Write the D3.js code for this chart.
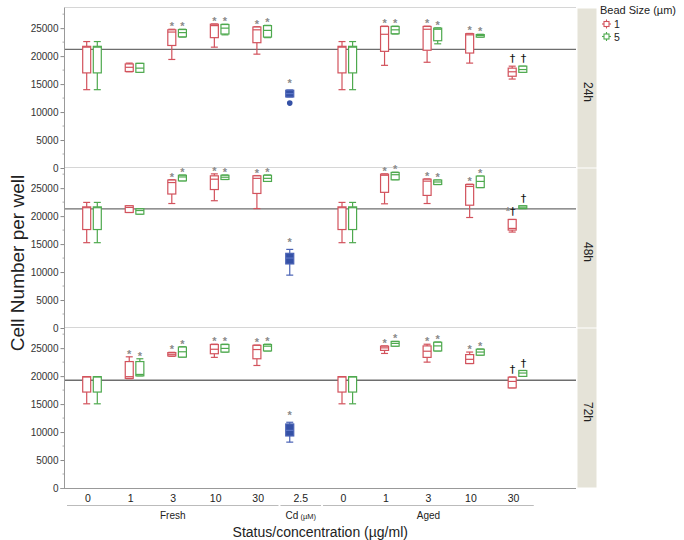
<!DOCTYPE html>
<html><head><meta charset="utf-8">
<script src="https://cdn.jsdelivr.net/npm/d3@7"></script>
<style>body{margin:0;background:#fff}svg{display:block}text{font-family:"Liberation Sans",Arial,sans-serif}</style>
</head><body><svg id="c" width="684" height="540"></svg>
<script>
// ---------------- DATA ----------------
const timepoints = ["24h", "48h", "72h"];
const xKeys = ["F0","F1","F3","F10","F30","Cd","A0","A1","A3","A10","A30"];
const xLabels = ["0","1","3","10","30","2.5","0","1","3","10","30"];
const groups = [
  {name: "Fresh", keys: ["F0","F1","F3","F10","F30"]},
  {name: "Cd", unit: "(µM)", keys: ["Cd"]},
  {name: "Aged", keys: ["A0","A1","A3","A10","A30"]}
];
const beadSizes = ["1", "5"];
const yTicks = [0, 5000, 10000, 15000, 20000, 25000];
const yMax = 28600;
const controlLines = [21200, 21300, 19250];

// box stats: [lower whisker, q1, median, q3, upper whisker]; order follows xKeys (Cd slot empty)
const bead1_24h = [[14000,17000,21600,21750,22600],[17200,17250,18000,18600,18750],[19400,21900,24300,24700,24800],[21600,23300,25450,25700,25750],[20350,22400,24700,25200,25250],null,
  [14000,17000,21600,21750,22600],[18350,20850,23900,25300,25350],[18900,21050,24800,25300,25350],[18750,20550,23800,24000,24050],[15900,16400,17200,17850,18200]];
const bead5_24h = [[14000,17000,21600,21750,22600],[17100,17100,17850,18700,18700],[23400,23450,24200,24750,24800],[23800,23950,25000,25650,25700],[23300,23400,24600,25450,25500],null,
  [14000,17000,21600,21750,22600],[23950,24000,24700,25300,25350],[22200,22750,24800,25000,25050],[23400,23400,23700,23850,23900],[17100,17100,17600,18200,18200]];
const bead1_48h = [[15250,17600,21500,21650,22450],[20650,20650,21550,21850,21850],[22250,23950,26000,26450,26500],[22750,24750,26600,27200,27550],[21350,24050,26750,27200,27250],null,
  [15250,17600,21500,21650,22450],[22200,24250,27300,27500,27550],[22250,23700,26250,26600,26650],[19750,21950,25300,25650,25700],[17150,17500,17800,19400,19400]];
const bead5_48h = [[15250,17600,21500,21650,22450],[20350,20350,21000,21300,21300],[26300,26300,27000,27300,27350],[26550,26550,26950,27300,27350],[26200,26200,26750,27300,27350],null,
  [15250,17600,21500,21650,22450],[26500,26500,27400,27800,27850],[25650,25650,26100,26450,26450],[25100,25100,26200,27150,27150],[21350,21350,21600,21850,21850]];
const bead1_72h = [[15050,17150,19850,19900,19900],[19550,19600,19900,22600,23450],[23550,23600,23900,24200,24250],[23350,24000,24800,25650,25700],[21900,23100,24750,25500,25550],null,
  [15050,17150,19850,19900,19900],[24050,24600,25050,25350,25400],[22500,23350,24450,25400,25700],[22250,22250,23000,23850,24300],[17900,17900,19050,19800,19850]];
const bead5_72h = [[15050,17150,19850,19900,19900],[20050,20050,20300,22600,23100],[23400,23400,24350,25200,25250],[24300,24300,24950,25650,25700],[24500,24500,25350,25650,25700],null,
  [15050,17150,19850,19900,19900],[25350,25350,25850,26200,26200],[24500,24500,25400,26050,26100],[23750,23750,24300,24800,24850],[19950,19950,20550,21000,21000]];
const cadmium = [[12700,12700,13300,13900,13950],[9450,11450,12500,13350,14050],[8200,9300,10300,11450,11750]];
const cadmiumOutliers = [[11600],[],[]];

// significance marks per timepoint, per bead size (same order as xKeys)
const marks1 = [
  ["","","*","*","*","*","","*","*","*","†"],
  ["","","*","*","*","*","","*","*","*","*†"],
  ["","*","*","*","*","*","","*","*","*","†"]];
const marks5 = [
  ["","","*","*","*","","","*","*","*","†"],
  ["","","*","*","*","","","*","*","*","†"],
  ["","*","*","*","*","","","*","*","*","†"]];

const series = [
  {name: beadSizes[0], color: "#d2525c", data: [bead1_24h, bead1_48h, bead1_72h], marks: marks1, dx: -5.3},
  {name: beadSizes[1], color: "#4ea94e", data: [bead5_24h, bead5_48h, bead5_72h], marks: marks5, dx: 5.3}
];

// ---------------- LAYOUT ----------------
const svg = d3.select("#c");
const L = 64.5, R = 576, panelH = 160, panelTops = [8, 168, 328];
const cdNudge = -15, labelShift = -4;
const x = d3.scalePoint().domain(xKeys).range([92, 517.5]);
const xc = k => x(k) + (k === "Cd" ? cdNudge : 0);
const xl = k => x(k) + labelShift;
const boxW = 8, capW = 7;

panelTops.forEach((top, pi) => {
  const y = d3.scaleLinear().domain([0, yMax]).range([top + panelH, top]);
  const g = svg.append("g");
  g.append("line").attr("x1", L).attr("x2", R).attr("y1", top - 0.5).attr("y2", top - 0.5)
    .attr("stroke", "#d6d6d6").attr("stroke-width", 1);
  const ax = g.append("g").attr("transform", `translate(${L},0)`)
    .call(d3.axisLeft(y).tickValues(yTicks).tickSize(4).tickPadding(2).tickFormat(d3.format("d")));
  ax.select(".domain").remove();
  ax.selectAll("line").attr("stroke", "#888");
  ax.selectAll("text").attr("font-size", 10).attr("fill", "#333");
  const minor = d3.range(2500, yMax, 5000);
  g.selectAll(".mn").data(minor).join("line").attr("x1", L - 2).attr("x2", L)
    .attr("y1", d => y(d)).attr("y2", d => y(d)).attr("stroke", "#aaa");
  g.append("line").attr("x1", L).attr("x2", R).attr("y1", y(controlLines[pi])).attr("y2", y(controlLines[pi]))
    .attr("stroke", "#6e6e6e").attr("stroke-width", 1.4);
  g.append("rect").attr("x", 577.5).attr("y", top + 0.5).attr("width", 19).attr("height", panelH - 1)
    .attr("fill", "#e5e3d8");
  g.append("text").attr("transform", `translate(587,${top + panelH / 2 + 4}) rotate(90)`)
    .attr("text-anchor", "middle").attr("dominant-baseline", "middle").attr("font-size", 12).attr("fill", "#222")
    .text(timepoints[pi]);

  series.forEach(s => {
    const rows = s.data[pi];
    xKeys.forEach((k, i) => {
      const b = rows[i];
      if (!b) return;
      const cx = xc(k) + s.dx;
      const bg = g.append("g").attr("stroke", s.color).attr("fill", "none").attr("stroke-width", 1.2);
      bg.append("line").attr("x1", cx).attr("x2", cx).attr("y1", y(b[4])).attr("y2", y(b[3]));
      bg.append("line").attr("x1", cx).attr("x2", cx).attr("y1", y(b[1])).attr("y2", y(b[0]));
      bg.append("line").attr("x1", cx - capW / 2).attr("x2", cx + capW / 2).attr("y1", y(b[4])).attr("y2", y(b[4]));
      bg.append("line").attr("x1", cx - capW / 2).attr("x2", cx + capW / 2).attr("y1", y(b[0])).attr("y2", y(b[0]));
      bg.append("rect").attr("x", cx - boxW / 2).attr("y", y(b[3])).attr("width", boxW)
        .attr("height", Math.max(1, y(b[1]) - y(b[3]))).attr("fill", "#fff");
      bg.append("line").attr("x1", cx - boxW / 2).attr("x2", cx + boxW / 2).attr("y1", y(b[2])).attr("y2", y(b[2]));
      const m = s.marks[pi][i];
      if (!m) return;
      if (m === "*") {
        g.append("text").attr("x", cx).attr("y", y(b[4]) + 1).attr("text-anchor", "middle")
          .attr("font-size", 11).attr("font-weight", "bold").attr("fill", "#8a8a8a").text(m);
      } else {
        const t = g.append("text").attr("x", Math.round(cx + (m.length > 1 ? 3 : 0)) + 0.5).attr("y", y(b[4]) - 4)
          .attr("text-anchor", m.length > 1 ? "end" : "middle").attr("font-size", 11)
          .style("font-family", '"DejaVu Sans", sans-serif');
        if (m.length > 1) t.append("tspan").attr("fill", "#8a8a8a").attr("font-weight", "bold")
          .style("font-family", '"Liberation Sans", Arial, sans-serif').text(m[0]);
        t.append("tspan").attr("fill", "#111").attr("stroke", "#111").attr("stroke-width", 0.12).text(m[m.length - 1]);
      }
    });
  });

  const cb = cadmium[pi], cx = xc("Cd");
  const cg = g.append("g").attr("stroke", "#4a63b5").attr("stroke-width", 1.2);
  cg.append("line").attr("x1", cx).attr("x2", cx).attr("y1", y(cb[4])).attr("y2", y(cb[0]));
  cg.append("line").attr("x1", cx - capW / 2).attr("x2", cx + capW / 2).attr("y1", y(cb[4])).attr("y2", y(cb[4]));
  cg.append("line").attr("x1", cx - capW / 2).attr("x2", cx + capW / 2).attr("y1", y(cb[0])).attr("y2", y(cb[0]));
  cg.append("rect").attr("x", cx - boxW / 2).attr("y", y(cb[3])).attr("width", boxW)
    .attr("height", Math.max(1, y(cb[1]) - y(cb[3]))).attr("fill", "#3551a6");
  cg.append("line").attr("x1", cx - boxW / 2).attr("x2", cx + boxW / 2).attr("y1", y(cb[2])).attr("y2", y(cb[2]))
    .attr("stroke", "#5b74c4");
  g.selectAll(".out").data(cadmiumOutliers[pi]).join("circle").attr("cx", cx).attr("cy", d => y(d)).attr("r", 2.8)
    .attr("fill", "#3551a6");
  g.append("text").attr("x", cx).attr("y", y(cb[4]) - 3).attr("text-anchor", "middle").attr("font-size", 11)
    .attr("font-weight", "bold").attr("fill", "#8a8a8a").text("*");
});

svg.append("line").attr("x1", L).attr("x2", L).attr("y1", 7.5).attr("y2", 488.5).attr("stroke", "#999");
svg.append("line").attr("x1", L - 4).attr("x2", R).attr("y1", 488.5).attr("y2", 488.5).attr("stroke", "#999");

// x tick labels
svg.selectAll(".xl").data(xKeys).join("text").attr("x", d => xl(d)).attr("y", 501.5)
  .attr("text-anchor", "middle").attr("font-size", 10.5).attr("fill", "#222")
  .text((d, i) => xLabels[i]);

// group brackets
groups.forEach((gr, gi) => {
  const first = gr.keys[0], last = gr.keys[gr.keys.length - 1];
  const a = gi === 0 ? L + 2.5 : xl(first) - x.step() / 2 + 1;
  const b = xl(last) + x.step() / 2 - 1;
  svg.append("line").attr("x1", a).attr("x2", b).attr("y1", 505.5).attr("y2", 505.5).attr("stroke", "#bbb");
  const t = svg.append("text").attr("x", (a + b) / 2).attr("y", 519).attr("text-anchor", "middle")
    .attr("font-size", 10).attr("fill", "#222").text(gr.name);
  if (gr.unit) t.append("tspan").attr("font-size", 7.5).text(" " + gr.unit);
});

svg.append("text").attr("x", (L + R) / 2).attr("y", 537).attr("text-anchor", "middle")
  .attr("font-size", 14).attr("fill", "#222").text("Status/concentration (µg/ml)");
svg.append("text").attr("transform", "translate(24,263) rotate(-90)").attr("text-anchor", "middle")
  .attr("font-size", 19).attr("fill", "#222").text("Cell Number  per well");

// legend
const lg = svg.append("g");
lg.append("text").attr("x", 600).attr("y", 14).attr("font-size", 11).attr("fill", "#222").text("Bead Size (µm)");
series.forEach((s, i) => {
  const yy = 24 + i * 12.5;
  const ig = lg.append("g").attr("stroke", s.color).attr("fill", "none").attr("stroke-width", 1.1);
  ig.append("line").attr("x1", 602).attr("x2", 611).attr("y1", yy).attr("y2", yy);
  ig.append("rect").attr("x", 604).attr("y", yy - 2.5).attr("width", 5).attr("height", 5).attr("fill", "#fff");
  ig.append("line").attr("x1", 606.5).attr("x2", 606.5).attr("y1", yy - 4.5).attr("y2", yy - 2.5);
  ig.append("line").attr("x1", 606.5).attr("x2", 606.5).attr("y1", yy + 2.5).attr("y2", yy + 4.5);
  lg.append("text").attr("x", 614).attr("y", yy + 4).attr("font-size", 10.5).attr("fill", "#222").text(s.name);
});
</script></body></html>
